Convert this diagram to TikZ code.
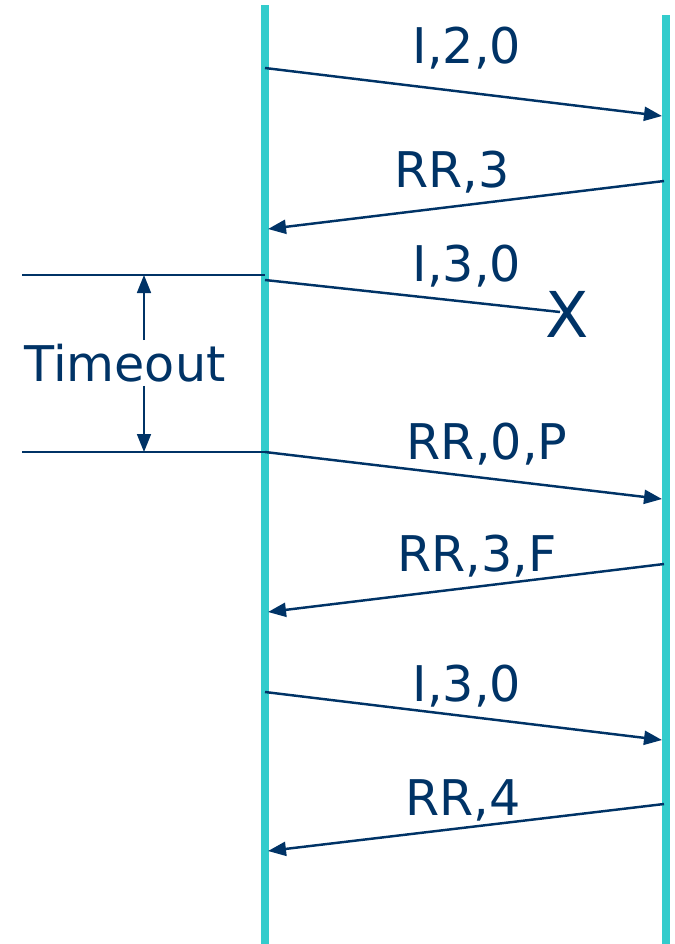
\documentclass[tikz,border=0pt]{standalone}
\usepackage{fontspec}
\setmainfont{DejaVu Sans}
\usetikzlibrary{arrows.meta}
\definecolor{linha}{RGB}{51,204,204}
\definecolor{azul}{RGB}{0,51,102}
\tikzset{
  vida/.style={draw=linha, line width=4pt},
  msg/.style={draw=azul, line width=1.4pt, -{Triangle[length=3.6mm,width=2.8mm]}},
  rotulo/.style={text=azul, font=\fontsize{28}{30}\selectfont, inner sep=2pt},
  guia/.style={draw=azul, line width=1pt}
}
\begin{document}
\begin{tikzpicture}[x=0.02cm, y=-0.02cm]
        \useasboundingbox (0,0) rectangle (674,944);

        % Linhas de tempo
        \coordinate (Atop) at (265,5);
        \coordinate (Abot) at (265,944);
        \coordinate (Btop) at (666,15);
        \coordinate (Bbot) at (666,944);
        \draw[vida] (Atop) -- (Abot);
        \draw[vida] (Btop) -- (Bbot);

        % Pontos de envio e chegada
        \coordinate (a1) at (265,68);  \coordinate (b1) at (662,116);
        \coordinate (b2) at (664,181); \coordinate (a2) at (268,229);
        \coordinate (a3) at (265,280);
        \coordinate (a4) at (265,452); \coordinate (b4) at (662,499);
        \coordinate (b5) at (664,564); \coordinate (a5) at (268,612);
        \coordinate (a6) at (265,692); \coordinate (b6) at (662,740);
        \coordinate (b7) at (664,804); \coordinate (a7) at (268,851);

        % Quadros perdido e X
        \node[text=azul, font=\fontsize{36}{38}\selectfont, inner sep=0pt] (X) at (567,314) {X};
        \coordinate (x3) at (560,312);

        % Setas das mensagens
        \draw[msg] (a1) -- (b1);
        \draw[msg] (b2) -- (a2);
        \draw[guia, line width=1.4pt] (a3) -- (x3);
        \draw[msg] (a4) -- (b4);
        \draw[msg] (b5) -- (a5);
        \draw[msg] (a6) -- (b6);
        \draw[msg] (b7) -- (a7);

        % Rotulos das mensagens
        \node[rotulo] (l1) at (467,48) {I,2,0};
        \node[rotulo] (l2) at (452,172) {RR,3};
        \node[rotulo] (l3) at (467,266) {I,3,0};
        \node[rotulo] (l4) at (487,444) {RR,0,P};
        \node[rotulo] (l5) at (477,556) {RR,3,F};
        \node[rotulo] (l6) at (467,686) {I,3,0};
        \node[rotulo] (l7) at (463,800) {RR,4};

        % Intervalo de timeout
        \coordinate (h1) at (22,275);
        \coordinate (h2) at (22,452);
        \coordinate (tt) at (144,275);
        \coordinate (tb) at (144,452);
        \draw[guia] (h1) -- (265,275);
        \draw[guia] (h2) -- (a4);
        \node[rotulo] (tmo) at (125,363) {Timeout};
        \draw[guia, -{Triangle[length=3.6mm,width=2.8mm]}] (tmo.north -| tt) -- (tt);
        \draw[guia, -{Triangle[length=3.6mm,width=2.8mm]}] (tmo.south -| tb) -- (tb);
      \end{tikzpicture}
\end{document}
